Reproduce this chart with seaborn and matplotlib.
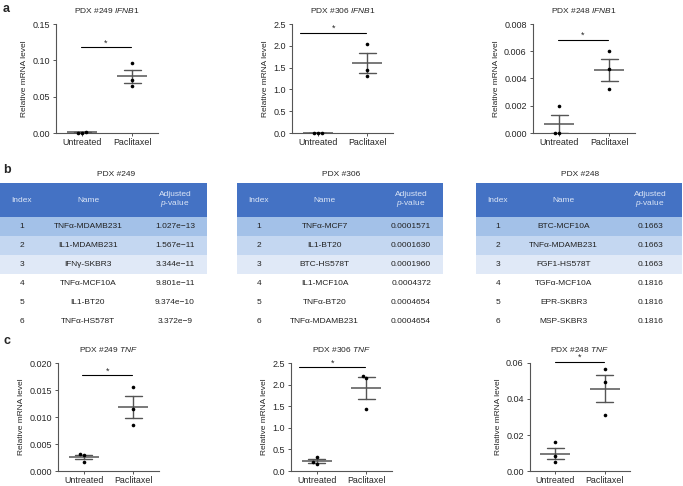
import numpy as np
import pandas as pd
import seaborn as sns
import matplotlib.pyplot as plt

# ---- data ----
groups = ["Untreated", "Paclitaxel"]

ifnb1_249_untr = [0.0015, 0.0004, 0.0003]
ifnb1_249_pac = [0.096, 0.073, 0.065]
ifnb1_306_untr = [0.006, 0.005, 0.004]
ifnb1_306_pac = [2.05, 1.45, 1.30]
ifnb1_248_untr = [0.0020, 0.0, 0.0]
ifnb1_248_pac = [0.0060, 0.0047, 0.0032]

tnf_249_untr = [0.0031, 0.0030, 0.0017]
tnf_249_pac = [0.0155, 0.0115, 0.0086]
tnf_306_untr = [0.32, 0.20, 0.17]
tnf_306_pac = [2.19, 2.16, 1.43]
tnf_248_untr = [0.016, 0.0081, 0.005]
tnf_248_pac = [0.0567, 0.0495, 0.031]

table_index = [1, 2, 3, 4, 5, 6]
names_249 = ["TNFα-MDAMB231", "IL1-MDAMB231", "IFNγ-SKBR3",
             "TNFα-MCF10A", "IL1-BT20", "TNFα-HS578T"]
pvals_249 = ["1.027e−13", "1.567e−11", "3.344e−11",
             "9.801e−11", "9.374e−10", "3.372e−9"]
names_306 = ["TNFα-MCF7", "IL1-BT20", "BTC-HS578T",
             "IL1-MCF10A", "TNFα-BT20", "TNFα-MDAMB231"]
pvals_306 = ["0.0001571", "0.0001630", "0.0001960",
             "0.0004372", "0.0004654", "0.0004654"]
names_248 = ["BTC-MCF10A", "TNFα-MDAMB231", "FGF1-HS578T",
             "TGFα-MCF10A", "EPR-SKBR3", "MSP-SKBR3"]
pvals_248 = ["0.1663", "0.1663", "0.1663", "0.1816", "0.1816", "0.1816"]

# ---- style ----
sns.set_theme(style="ticks")
plt.rcParams["font.family"] = ["Liberation Sans", "DejaVu Sans"]
plt.rcParams["mathtext.fontset"] = "custom"
plt.rcParams["mathtext.rm"] = "Liberation Sans"
plt.rcParams["mathtext.it"] = "Liberation Sans:italic"

W, H = 683, 486
fig = plt.figure(figsize=(W / 100, H / 100), dpi=100)


def px_axes(left, top, right, bottom):
    return fig.add_axes([left / W, 1 - bottom / H, (right - left) / W, (bottom - top) / H])


def dot_panel(ax, untr, pac, title, ymax, step, fmt, sig_x0, sig_y):
    df = pd.DataFrame({
        "group": ["Untreated"] * len(untr) + ["Paclitaxel"] * len(pac),
        "value": untr + pac,
    })
    sns.pointplot(data=df, x="group", y="value", order=groups, errorbar="se",
                  capsize=0.34, markers="_", markersize=22, markeredgewidth=1.1,
                  linestyle="none", color="#555555", err_kws={"linewidth": 1.0},
                  ax=ax)
    sns.swarmplot(data=df, x="group", y="value", order=groups, color="black",
                  size=2.6, ax=ax)
    for c in ax.collections:
        c.set_clip_on(False)
    ax.plot([sig_x0, 0.98], [sig_y, sig_y], color="black", lw=0.8, clip_on=False)
    ax.text((sig_x0 + 0.98) / 2, sig_y, "*", ha="center", va="bottom", fontsize=6.5)
    ax.set_xlim(-0.52, 1.52)
    ax.set_ylim(0, ymax)
    ticks = np.arange(0, ymax + step / 2, step)
    ax.set_yticks(ticks)
    ax.set_yticklabels([fmt.format(t) for t in ticks])
    ax.set_xlabel("")
    ax.set_ylabel("Relative mRNA level", fontsize=6, labelpad=3)
    ax.set_title(title, fontsize=6, pad=8)
    ax.tick_params(axis="both", labelsize=6.5, length=2.5, width=0.7, color="#555555", pad=2)
    ax.tick_params(axis="x", labelsize=6.4, pad=1.2)
    sns.despine(ax=ax)
    for s in ["left", "bottom"]:
        ax.spines[s].set_color("#555555")
        ax.spines[s].set_linewidth(0.8)


def draw_table(ax, names, pvals):
    rows = np.array(table_index)
    row_colors = ["#a3c1e8", "#c4d7f1", "#e0e9f7", "white", "white", "white"]
    ax.barh(rows, 1, height=1, left=0, color=row_colors, edgecolor="none")
    ax.barh([-0.4], 1, height=1.8, left=0, color="#4472c4", edgecolor="none")
    cols = [0.105, 0.425, 0.845]
    hc = "#dbe5f6"
    ax.text(cols[0], -0.4, "Index", ha="center", va="center", fontsize=6, color=hc)
    ax.text(cols[1], -0.4, "Name", ha="center", va="center", fontsize=6, color=hc)
    ax.text(cols[2], -0.4, "Adjusted\n$p$-value", ha="center", va="center",
            fontsize=6, color=hc, linespacing=1.1)
    for r, n, p in zip(rows, names, pvals):
        ax.text(cols[0], r, str(r), ha="center", va="center", fontsize=6, color="#222222")
        ax.text(cols[1], r, n, ha="center", va="center", fontsize=6, color="#222222")
        ax.text(cols[2], r, p, ha="center", va="center", fontsize=6, color="#222222")
    ax.set_xlim(0, 1)
    ax.set_ylim(6.5, -1.3)
    ax.axis("off")


# ---- panel a ----
ax = px_axes(56, 24, 158, 133)
dot_panel(ax, ifnb1_249_untr, ifnb1_249_pac, r"PDX #249 $\it{IFNB1}$",
          0.15, 0.05, "{:.2f}", -0.03, 0.118)
ax = px_axes(292, 24, 393, 133)
dot_panel(ax, ifnb1_306_untr, ifnb1_306_pac, r"PDX #306 $\it{IFNB1}$",
          2.5, 0.5, "{:.1f}", -0.35, 2.29)
ax = px_axes(533, 24, 635, 133)
dot_panel(ax, ifnb1_248_untr, ifnb1_248_pac, r"PDX #248 $\it{IFNB1}$",
          0.008, 0.002, "{:.3f}", -0.03, 0.00682)

# ---- panel b ----
ax = px_axes(0, 183, 207, 331.5)
draw_table(ax, names_249, pvals_249)
ax = px_axes(237, 183, 443, 331.5)
draw_table(ax, names_306, pvals_306)
ax = px_axes(476, 183, 682, 331.5)
draw_table(ax, names_248, pvals_248)
for x, t in [(116, "PDX #249"), (341, "PDX #306"), (580, "PDX #248")]:
    fig.text(x / W, 1 - 176 / H, t, ha="center", va="baseline", fontsize=6)

# ---- panel c ----
ax = px_axes(58, 363, 159, 471)
dot_panel(ax, tnf_249_untr, tnf_249_pac, r"PDX #249 $\it{TNF}$",
          0.02, 0.005, "{:.3f}", -0.03, 0.0177)
ax = px_axes(291, 363, 392, 471)
dot_panel(ax, tnf_306_untr, tnf_306_pac, r"PDX #306 $\it{TNF}$",
          2.5, 0.5, "{:.1f}", -0.35, 2.40)
ax = px_axes(530, 363, 630, 471)
dot_panel(ax, tnf_248_untr, tnf_248_pac, r"PDX #248 $\it{TNF}$",
          0.06, 0.02, "{:.2f}", 0.0, 0.0605)

for y, t in [(12, "a"), (173, "b"), (344, "c")]:
    fig.text(3 / W, 1 - y / H, t, ha="left", va="baseline", fontsize=9, fontweight="bold")

fig.savefig("out.png", dpi=100)
